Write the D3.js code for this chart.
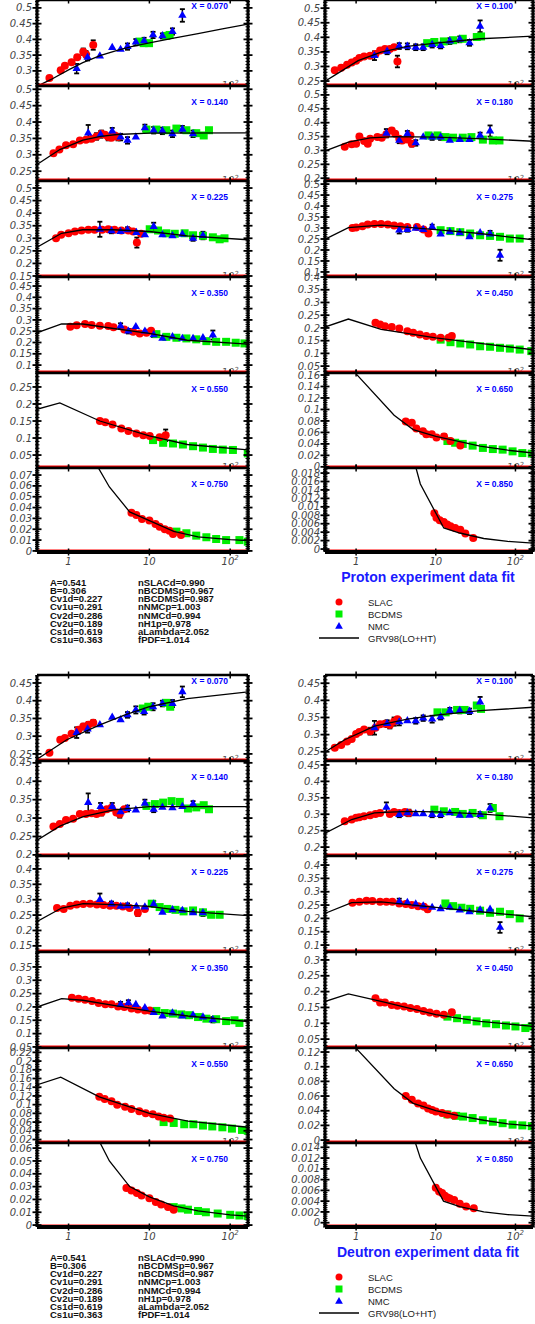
<!DOCTYPE html>
<html>
<head>
<meta charset="utf-8">
<script src="https://cdn.jsdelivr.net/npm/d3@7"></script>
<style>
  body { margin: 0; background: #fff; }
  svg text { font-family: "Liberation Sans", Arial, sans-serif; }
</style>
</head>
<body>
<div id="chart"></div>
<script>
// data points are [Q2, F2, error] (error only where a bar is drawn)

// ---------- proton ----------
var slacP070 = [[0.58,0.277],[0.80,0.302],[0.90,0.316],[1.09,0.327],[1.28,0.343],[1.52,0.361,0.01],[1.64,0.353,0.01],[2.02,0.382,0.015]];
var bcdmsP070 = [[7.6,0.393],[8.5,0.388],[9.9,0.388],[16.2,0.411],[17.8,0.414]];
var nmcP070 = [[1.26,0.307,0.015],[1.72,0.343,0.01],[2.44,0.347],[3.47,0.374],[4.4,0.368],[5.36,0.377,0.01],[6.8,0.391,0.01],[8.6,0.395,0.01],[11.1,0.414,0.01],[14.5,0.411,0.008],[19.3,0.425,0.01],[25.6,0.476,0.02]];
var grvP070 = [[0.4,0.25],[0.6,0.272],[1,0.303],[1.5,0.326],[2.5,0.349],[4,0.365],[6,0.377],[10,0.389],[20,0.404],[40,0.418],[80,0.433],[170,0.449]];

var slacP140 = [[0.65,0.305],[0.77,0.316],[0.93,0.329],[1.14,0.332],[1.38,0.344],[1.64,0.346],[1.93,0.349],[2.22,0.356,0.01],[2.56,0.364,0.01],[2.82,0.361],[3.1,0.354,0.01],[3.4,0.352],[3.74,0.359],[4.1,0.354,0.01]];
var bcdmsP140 = [[9.2,0.377],[12.2,0.377],[16.2,0.375],[21.6,0.38],[28.7,0.375],[38,0.366],[47,0.359],[54.6,0.375]];
var nmcP140 = [[1.75,0.366,0.025],[2.49,0.362,0.01],[3.47,0.372,0.01],[4.4,0.354,0.01],[5.36,0.344,0.01],[6.8,0.354],[8.8,0.382,0.01],[11.3,0.375,0.01],[14.5,0.373,0.01],[19.3,0.364,0.01],[25.6,0.378,0.01],[34.7,0.364,0.01]];
var grvP140 = [[0.4,0.269],[0.78,0.316],[1.5,0.345],[2.5,0.356],[4,0.362],[10,0.366],[170,0.367]];

var slacP225 = [[0.7,0.3],[0.81,0.314],[1.0,0.32],[1.2,0.327],[1.45,0.331],[1.76,0.334],[2.1,0.334],[2.6,0.334],[3.1,0.336],[3.7,0.334],[4.5,0.331],[5.5,0.331],[6.3,0.327],[7.0,0.283,0.02],[7.9,0.318]];
var bcdmsP225 = [[10.1,0.336],[12.8,0.331],[16.2,0.32],[20.6,0.318],[27.3,0.32],[34.7,0.312],[46,0.31],[61,0.304],[74,0.296],[85,0.3]];
var nmcP225 = [[2.44,0.336,0.03],[3.4,0.33,0.01],[4.4,0.327],[5.36,0.334,0.01],[6.9,0.323],[8.8,0.314],[11.3,0.347,0.015],[14.5,0.314],[19.3,0.31],[25.6,0.316],[34.7,0.3,0.01],[46,0.311,0.015]];
var grvP225 = [[0.4,0.263],[0.82,0.32],[1.5,0.334],[3.6,0.334],[10,0.327],[29.5,0.31],[170,0.294]];

var slacP350 = [[1.05,0.27],[1.26,0.276],[1.6,0.282],[1.93,0.277],[2.44,0.274],[3.1,0.273],[3.6,0.267],[4.9,0.258],[6.3,0.248],[7.6,0.24],[9.2,0.243],[10.5,0.252]];
var bcdmsP350 = [[12.2,0.237],[16.2,0.225],[21.6,0.221],[28.7,0.218],[38,0.214],[50.7,0.206],[67,0.203],[89,0.203],[117,0.199],[150,0.196]];
var nmcP350 = [[4.4,0.273,0.012],[5.5,0.25,0.01],[6.8,0.27],[8.8,0.25],[11.3,0.234,0.01],[14.5,0.218],[19.3,0.225],[25.6,0.218],[34.7,0.218],[46,0.221],[61,0.233,0.02]];
var grvP350 = [[0.4,0.242],[0.82,0.282],[1.5,0.282],[3.6,0.262],[10,0.24],[29.5,0.21],[170,0.193]];

var slacP550 = [[2.44,0.15],[2.85,0.146],[3.5,0.14],[4.5,0.128],[5.5,0.121],[6.9,0.113],[8.4,0.108],[10.1,0.106],[13.4,0.102],[15.9,0.108,0.017]];
var bcdmsP550 = [[11.1,0.094],[14.8,0.086],[19.6,0.084],[26,0.081],[34.7,0.076],[46,0.072],[61,0.068],[81,0.066],[108,0.065],[165,0.055]];
var nmcP550 = [];
var grvP550 = [[0.4,0.184],[0.78,0.203],[2.44,0.15],[10,0.106],[29.5,0.081],[170,0.065]];

var slacP750 = [[6.0,0.0353],[6.9,0.0332],[8.1,0.0295],[10,0.028],[11.9,0.0249],[13.4,0.0224],[15.5,0.02],[17.7,0.0187],[19.6,0.0157],[24.6,0.0147]];
var bcdmsP750 = [[21.6,0.0178],[28.7,0.0163],[38,0.0141],[50.7,0.0126],[67,0.011],[89,0.01],[130,0.01],[165,0.0085]];
var nmcP750 = [];
var grvP750 = [[2.2,0.08],[3.2,0.059],[5.7,0.036],[10,0.028],[20,0.018],[40,0.013],[100,0.0105],[170,0.0095]];

var slacP100 = [[0.54,0.287],[0.65,0.296],[0.77,0.306],[0.88,0.314],[1.0,0.32],[1.1,0.329],[1.26,0.334],[1.5,0.337],[1.75,0.343],[2.0,0.355],[2.3,0.36],[2.65,0.36],[3.0,0.366],[3.3,0.317,0.02]];
var bcdmsP100 = [[7.8,0.38],[9.6,0.384],[12.6,0.386],[16.5,0.39],[21.8,0.395],[32.7,0.401],[37,0.403]];
var nmcP100 = [[1.7,0.337,0.015],[2.45,0.352,0.01],[3.48,0.37,0.01],[4.4,0.369,0.01],[5.6,0.366,0.01],[6.95,0.366,0.01],[9.0,0.375,0.01],[11.5,0.372,0.01],[15,0.387,0.01],[20,0.393,0.01],[26.5,0.381,0.01],[36,0.438,0.02]];
var grvP100 = [[0.4,0.248],[0.66,0.285],[1.06,0.32],[2.06,0.349],[4.4,0.369],[10,0.38],[36,0.395],[170,0.404]];

var slacP180 = [[0.72,0.313],[0.88,0.322],[1.0,0.324],[1.1,0.35,0.008],[1.26,0.334],[1.4,0.324],[1.5,0.342],[1.85,0.348],[2.1,0.346],[2.4,0.358],[2.8,0.372,0.008],[3.1,0.36],[3.48,0.342],[3.8,0.336],[4.4,0.339],[4.8,0.354],[5.0,0.324,0.01]];
var bcdmsP180 = [[8.1,0.354],[10.5,0.354],[13.2,0.348],[16.5,0.346],[21.8,0.346],[28,0.348],[39,0.339],[52,0.336],[63,0.336]];
var nmcP180 = [[2.4,0.362,0.015],[3.48,0.336,0.01],[4.4,0.36,0.01],[5.6,0.327,0.01],[6.95,0.348],[9,0.348,0.01],[11.5,0.348,0.01],[15,0.336],[20,0.339],[26.5,0.339],[36,0.354,0.01],[48,0.37,0.02]];
var grvP180 = [[0.4,0.297],[0.8,0.33],[1.5,0.345],[3,0.35],[10,0.348],[40,0.342],[170,0.333]];

var slacP275 = [[0.9,0.3],[1.0,0.302],[1.2,0.308],[1.4,0.316],[1.7,0.318],[2.06,0.318],[2.5,0.316],[3.0,0.311],[3.6,0.308],[4.4,0.305],[5.8,0.305],[7.0,0.293],[8.1,0.275,0.01]];
var bcdmsP275 = [[11.5,0.29],[15.3,0.286],[20.3,0.281],[27,0.275],[36,0.267],[48,0.264],[64,0.26],[85,0.252],[113,0.252]];
var nmcP275 = [[3.48,0.29,0.015],[4.4,0.293,0.01],[5.6,0.298],[6.95,0.293],[9,0.305,0.01],[11.5,0.272],[15,0.283,0.01],[20,0.278],[26.5,0.26],[36,0.278],[48,0.272,0.015],[64,0.176,0.025]];
var grvP275 = [[0.4,0.247],[0.8,0.302],[2.06,0.313],[10,0.293],[36,0.275],[170,0.246]];

var slacP450 = [[1.75,0.22],[2.0,0.213],[2.3,0.207],[2.8,0.204],[3.48,0.198],[4.4,0.187],[5.2,0.181],[6.3,0.174],[7.6,0.168],[9.2,0.165],[11.5,0.161],[14.5,0.161],[15.9,0.168,0.008]];
var bcdmsP450 = [[11.5,0.154],[15.3,0.144],[20.3,0.139],[27,0.135],[36,0.128],[48,0.126],[64,0.122],[85,0.119],[113,0.115],[158,0.109]];
var nmcP450 = [];
var grvP450 = [[0.4,0.203],[0.8,0.235],[2.06,0.194],[10,0.161],[36,0.139],[170,0.114]];

var slacP650 = [[4.2,0.079],[5.0,0.077],[5.7,0.067],[6.9,0.062],[7.6,0.057,0.004],[8.9,0.057],[10.2,0.051],[12.7,0.053,0.004],[15.3,0.045],[20.3,0.037]];
var bcdmsP650 = [[14,0.045],[17.5,0.042],[21.8,0.04],[29,0.037],[39,0.033],[52,0.031],[69,0.03],[92,0.027],[122,0.024],[160,0.023]];
var nmcP650 = [];
var grvP650 = [[1.0,0.162],[3.0,0.09],[5.2,0.065],[10,0.053],[20,0.044],[36,0.036],[80,0.029],[170,0.024]];

var slacP850 = [[9.6,0.0085],[10.2,0.0074],[11.2,0.0068],[12.6,0.0064],[13.9,0.0058],[15.3,0.0054],[17.5,0.005],[20.3,0.0046],[23.5,0.0037],[29.5,0.0026]];
var bcdmsP850 = [];
var nmcP850 = [];
var grvP850 = [[5.5,0.02],[6.4,0.0154],[12.6,0.005],[20,0.0038],[40,0.0025],[80,0.0018],[170,0.0014]];

// ---------- deuteron ----------
var slacD070 = [[0.58,0.253],[0.79,0.29],[0.9,0.295],[1.09,0.307],[1.33,0.318],[1.52,0.327,0.008],[1.76,0.332,0.008],[2.02,0.338,0.008]];
var bcdmsD070 = [[8.3,0.378],[9.7,0.383],[16.2,0.394],[18.1,0.383]];
var nmcD070 = [[1.26,0.31,0.015],[1.72,0.32,0.01],[2.44,0.332],[3.47,0.353],[4.4,0.346],[5.36,0.36,0.008],[6.8,0.374,0.01],[8.6,0.369,0.008],[11.1,0.383,0.01],[14.5,0.392,0.008],[19.3,0.392,0.01],[25.6,0.425,0.015]];
var grvD070 = [[0.4,0.234],[0.95,0.29],[2.44,0.332],[5,0.36],[10,0.383],[29.5,0.406],[170,0.425]];

var slacD140 = [[0.65,0.277],[0.78,0.284],[0.93,0.295],[1.14,0.298],[1.38,0.311],[1.64,0.311],[1.93,0.313],[2.22,0.311],[2.56,0.315,0.008],[2.97,0.324],[3.4,0.328],[3.9,0.315],[4.3,0.311,0.01],[4.9,0.324]];
var bcdmsD140 = [[9.2,0.333],[11.7,0.338],[14.8,0.342],[18.8,0.346],[23.8,0.344],[30,0.326],[38,0.329],[47,0.335],[54.6,0.324]];
var nmcD140 = [[1.75,0.342,0.025],[2.49,0.331,0.01],[3.47,0.331,0.01],[4.4,0.317],[5.36,0.326,0.008],[6.8,0.322],[8.8,0.34,0.01],[11.3,0.324,0.008],[14.5,0.329],[19.3,0.328],[25.6,0.331],[34.7,0.338,0.008]];
var grvD140 = [[0.4,0.239],[0.78,0.278],[1.52,0.304],[3.6,0.322],[10,0.331],[170,0.331]];

var slacD225 = [[0.72,0.273],[0.87,0.27],[1.05,0.28],[1.26,0.284],[1.52,0.286],[1.85,0.287],[2.24,0.284],[2.7,0.283],[3.26,0.28],[3.9,0.28],[4.7,0.278],[5.7,0.273],[7.2,0.257,0.01],[8.8,0.27]];
var bcdmsD225 = [[10.7,0.287],[13.4,0.276],[16.7,0.27],[21,0.267],[26.5,0.262],[34.7,0.265],[46,0.259],[58,0.251],[74,0.251]];
var nmcD225 = [[2.44,0.3,0.02],[3.4,0.286,0.008],[4.4,0.278],[5.36,0.28,0.008],[6.9,0.278],[8.8,0.276],[11.3,0.286,0.01],[14.5,0.259],[19.3,0.267],[25.6,0.265],[34.7,0.257],[46,0.257,0.01]];
var grvD225 = [[0.4,0.228],[0.82,0.273],[1.52,0.287],[3.6,0.284],[10,0.278],[29.5,0.262],[170,0.248]];

var slacD350 = [[1.1,0.234],[1.33,0.231],[1.6,0.227],[1.95,0.222],[2.35,0.215],[2.85,0.21],[3.4,0.21],[4.1,0.202],[4.9,0.2],[6.0,0.194],[7.2,0.19],[8.8,0.187],[10.1,0.187]];
var bcdmsD350 = [[12.2,0.185],[15.5,0.177],[19.6,0.175],[24.8,0.172],[31,0.169],[40,0.162],[50.7,0.156],[67,0.154],[89,0.147],[113,0.15],[130,0.14]];
var nmcD350 = [[4.4,0.209,0.01],[5.5,0.215,0.01],[6.8,0.209],[8.8,0.197],[11.3,0.179],[14.5,0.166],[19.3,0.177],[25.6,0.166],[34.7,0.169],[46,0.162],[61,0.152,0.01]];
var grvD350 = [[0.4,0.199],[0.82,0.231],[1.5,0.225],[3.6,0.206],[10,0.184],[30,0.166],[170,0.145]];

var slacD550 = [[2.4,0.118],[2.8,0.113],[3.4,0.108],[4,0.1],[5,0.095],[6,0.09],[7.5,0.085],[9,0.08],[11,0.078],[13,0.073],[15,0.07],[18,0.068]];
var bcdmsD550 = [[15,0.06],[20,0.058],[27,0.055],[35,0.055],[46,0.052],[60,0.05],[80,0.048],[105,0.045],[140,0.042],[165,0.04]];
var nmcD550 = [];
var grvD550 = [[0.4,0.145],[0.8,0.163],[2.4,0.118],[10,0.08],[30,0.062],[170,0.048]];

var slacD750 = [[5.2,0.029],[6,0.027],[7,0.025],[8,0.023],[10,0.021],[12,0.018],[14,0.016],[17,0.014],[20,0.012]];
var bcdmsD750 = [[20,0.014],[25,0.013],[30,0.012],[40,0.011],[50,0.01],[70,0.009],[100,0.008],[130,0.0075],[165,0.007]];
var nmcD750 = [];
var grvD750 = [[2.2,0.07],[3.2,0.05],[5.7,0.03],[10,0.022],[20,0.015],[40,0.011],[100,0.008],[170,0.007]];

var slacD100 = [[0.54,0.262],[0.65,0.27],[0.77,0.28],[0.88,0.287],[1.0,0.302],[1.1,0.308],[1.26,0.315],[1.5,0.31,0.01],[1.75,0.32],[2.0,0.33],[2.3,0.332],[2.65,0.328,0.01],[3.0,0.338,0.012],[3.3,0.345]];
var bcdmsD100 = [[10.5,0.365],[13.3,0.365],[18.5,0.372],[23,0.372],[32.7,0.385],[37,0.375]];
var nmcD100 = [[1.7,0.32,0.02],[2.45,0.332,0.01],[3.48,0.337,0.01],[4.4,0.34],[5.6,0.34,0.008],[6.95,0.348,0.008],[9,0.345,0.01],[11.5,0.352,0.008],[15,0.37,0.008],[20,0.37,0.008],[26.5,0.368,0.008],[36,0.395,0.015]];
var grvD100 = [[0.4,0.248],[0.72,0.285],[1.7,0.325],[4.4,0.345],[10,0.357],[36,0.37],[170,0.38]];

var slacD180 = [[0.72,0.279],[0.88,0.284],[1.0,0.289],[1.1,0.291],[1.26,0.294],[1.5,0.297],[1.75,0.301],[2.0,0.304],[2.65,0.301],[3.0,0.307],[3.48,0.304],[4.1,0.307],[4.6,0.304,0.01]];
var bcdmsD180 = [[9.6,0.314],[12.6,0.309],[17.5,0.307],[21.8,0.301],[29,0.304],[39,0.297],[52,0.319],[63,0.294]];
var nmcD180 = [[2.4,0.321,0.015],[3.48,0.299,0.008],[4.4,0.304,0.008],[5.6,0.301],[6.95,0.301],[9,0.299,0.008],[11.5,0.299,0.008],[15,0.304],[20,0.297],[26.5,0.297],[36,0.299,0.008],[48,0.319,0.012]];
var grvD180 = [[0.4,0.241],[0.88,0.284],[1.7,0.304],[4.4,0.309],[10,0.307],[36,0.301],[170,0.289]];

var slacD275 = [[0.9,0.259],[1.1,0.262],[1.35,0.266],[1.6,0.265],[2.0,0.262],[2.4,0.262],[2.85,0.262],[3.48,0.256,0.008],[4.2,0.254],[5.0,0.25],[6.0,0.246],[7.1,0.244],[7.9,0.234,0.008]];
var bcdmsD275 = [[13.2,0.256],[16.5,0.246],[21,0.24],[27,0.236],[36,0.229],[48,0.221],[64,0.225],[85,0.216],[113,0.2]];
var nmcD275 = [[3.48,0.262,0.012],[4.4,0.259],[5.6,0.254],[6.95,0.246],[9,0.241],[11.5,0.236],[15,0.241],[20,0.231],[26.5,0.225],[36,0.231],[48,0.234],[64,0.166,0.02]];
var grvD275 = [[0.4,0.218],[0.88,0.259],[2.06,0.262],[10,0.241],[36,0.225],[170,0.206]];

var slacD450 = [[1.75,0.179],[2.0,0.166],[2.3,0.166],[2.8,0.158],[3.3,0.155],[4.0,0.153],[4.8,0.148],[5.8,0.145],[7.0,0.139],[8.4,0.134],[10.2,0.13],[12.6,0.127],[15.9,0.135,0.006]];
var bcdmsD450 = [[14,0.121],[18.5,0.116],[24.5,0.111],[32.5,0.106],[43,0.1],[57,0.097],[76,0.093],[100,0.09],[133,0.085],[160,0.09]];
var nmcD450 = [];
var grvD450 = [[0.4,0.168],[0.8,0.193],[2.06,0.169],[10,0.127],[36,0.106],[170,0.09]];

var slacD650 = [[4.2,0.06],[5,0.055],[6,0.05],[7,0.047],[8,0.043],[9,0.041],[10,0.039],[12,0.037],[14,0.035],[17,0.033]];
var bcdmsD650 = [[14,0.035],[18,0.033],[22,0.032],[29,0.03],[39,0.027],[52,0.025],[69,0.023],[92,0.021],[122,0.02],[160,0.019]];
var nmcD650 = [];
var grvD650 = [[1.0,0.125],[3,0.07],[5.2,0.05],[10,0.04],[20,0.033],[40,0.027],[80,0.022],[170,0.019]];

var slacD850 = [[10,0.0065],[11,0.0058],[12,0.0055],[13,0.005],[14,0.0047],[15,0.0045],[17,0.0042],[20,0.0035],[24,0.003],[30,0.0027]];
var bcdmsD850 = [];
var nmcD850 = [];
var grvD850 = [[5.5,0.015],[6.4,0.012],[12.5,0.004],[20,0.003],[40,0.002],[80,0.0015],[170,0.0012]];

// ---------- labels ----------
var sectionTitles = ["Proton experiment data fit", "Deutron experiment data fit"];
var legendLabels = ["SLAC", "BCDMS", "NMC", "GRV98(LO+HT)"];
var paramsLeft = ["A=0.541", "B=0.306", "Cv1d=0.227", "Cv1u=0.291", "Cv2d=0.286", "Cv2u=0.189", "Cs1d=0.619", "Cs1u=0.363"];
var paramsRight = ["nSLACd=0.990", "nBCDMSp=0.967", "nBCDMSd=0.987", "nNMCp=1.003", "nNMCd=0.994", "nH1p=0.978", "aLambda=2.052", "fPDF=1.014"];

// ---------- layout ----------
var W = 535, H = 1324;
var sectionTop = [0, 675];
var rowEdges = [0, 86, 181, 277, 373, 468, 552];
var colX = [[37, 248], [325, 533]];
var q2Domain = [0.407, 166];

var panels = [
  {sec:0,col:0,row:0,xb:"0.070",dom:[0.252,0.525],yt:[0.3,0.5,0.05],slac:slacP070,bcdms:bcdmsP070,nmc:nmcP070,grv:grvP070},
  {sec:0,col:0,row:1,xb:"0.140",dom:[0.22,0.51],yt:[0.25,0.5,0.05],slac:slacP140,bcdms:bcdmsP140,nmc:nmcP140,grv:grvP140},
  {sec:0,col:0,row:2,xb:"0.225",dom:[0.146,0.528],yt:[0.15,0.5,0.05],slac:slacP225,bcdms:bcdmsP225,nmc:nmcP225,grv:grvP225},
  {sec:0,col:0,row:3,xb:"0.350",dom:[0.065,0.49],yt:[0.1,0.45,0.05],slac:slacP350,bcdms:bcdmsP350,nmc:nmcP350,grv:grvP350},
  {sec:0,col:0,row:4,xb:"0.550",dom:[0.012,0.291],yt:[0.05,0.25,0.05],slac:slacP550,bcdms:bcdmsP550,nmc:nmcP550,grv:grvP550},
  {sec:0,col:0,row:5,xb:"0.750",dom:[-0.001,0.0765],yt:[0,0.07,0.01],slac:slacP750,bcdms:bcdmsP750,nmc:nmcP750,grv:grvP750},
  {sec:0,col:1,row:0,xb:"0.100",dom:[0.233,0.528],yt:[0.25,0.5,0.05],slac:slacP100,bcdms:bcdmsP100,nmc:nmcP100,grv:grvP100},
  {sec:0,col:1,row:1,xb:"0.180",dom:[0.19,0.532],yt:[0.2,0.5,0.05],slac:slacP180,bcdms:bcdmsP180,nmc:nmcP180,grv:grvP180},
  {sec:0,col:1,row:2,xb:"0.275",dom:[0.077,0.514],yt:[0.1,0.5,0.05],slac:slacP275,bcdms:bcdmsP275,nmc:nmcP275,grv:grvP275},
  {sec:0,col:1,row:3,xb:"0.450",dom:[0.023,0.4],yt:[0.05,0.4,0.05],slac:slacP450,bcdms:bcdmsP450,nmc:nmcP450,grv:grvP450},
  {sec:0,col:1,row:4,xb:"0.650",dom:[-0.002,0.1635],yt:[0,0.16,0.02],slac:slacP650,bcdms:bcdmsP650,nmc:nmcP650,grv:grvP650},
  {sec:0,col:1,row:5,xb:"0.850",dom:[-0.0007,0.0192],yt:[0,0.018,0.002],slac:slacP850,bcdms:bcdmsP850,nmc:nmcP850,grv:grvP850},
  {sec:1,col:0,row:0,xb:"0.070",dom:[0.23,0.4725],yt:[0.25,0.45,0.05],slac:slacD070,bcdms:bcdmsD070,nmc:nmcD070,grv:grvD070},
  {sec:1,col:0,row:1,xb:"0.140",dom:[0.197,0.455],yt:[0.2,0.45,0.05],slac:slacD140,bcdms:bcdmsD140,nmc:nmcD140,grv:grvD140},
  {sec:1,col:0,row:2,xb:"0.225",dom:[0.13,0.442],yt:[0.15,0.4,0.05],slac:slacD225,bcdms:bcdmsD225,nmc:nmcD225,grv:grvD225},
  {sec:1,col:0,row:3,xb:"0.350",dom:[0.046,0.406],yt:[0.05,0.35,0.05],slac:slacD350,bcdms:bcdmsD350,nmc:nmcD350,grv:grvD350},
  {sec:1,col:0,row:4,xb:"0.550",dom:[0.012,0.23],yt:[0.02,0.22,0.02],slac:slacD550,bcdms:bcdmsD550,nmc:nmcD550,grv:grvD550},
  {sec:1,col:0,row:5,xb:"0.750",dom:[-0.0015,0.064],yt:[0,0.06,0.01],slac:slacD750,bcdms:bcdmsD750,nmc:nmcD750,grv:grvD750},
  {sec:1,col:1,row:0,xb:"0.100",dom:[0.223,0.474],yt:[0.25,0.45,0.05],slac:slacD100,bcdms:bcdmsD100,nmc:nmcD100,grv:grvD100},
  {sec:1,col:1,row:1,xb:"0.180",dom:[0.173,0.462],yt:[0.2,0.45,0.05],slac:slacD180,bcdms:bcdmsD180,nmc:nmcD180,grv:grvD180},
  {sec:1,col:1,row:2,xb:"0.275",dom:[0.074,0.434],yt:[0.1,0.4,0.05],slac:slacD275,bcdms:bcdmsD275,nmc:nmcD275,grv:grvD275},
  {sec:1,col:1,row:3,xb:"0.450",dom:[0.022,0.325],yt:[0.05,0.3,0.05],slac:slacD450,bcdms:bcdmsD450,nmc:nmcD450,grv:grvD450},
  {sec:1,col:1,row:4,xb:"0.650",dom:[-0.004,0.1255],yt:[0,0.12,0.02],slac:slacD650,bcdms:bcdmsD650,nmc:nmcD650,grv:grvD650},
  {sec:1,col:1,row:5,xb:"0.850",dom:[-0.0008,0.0148],yt:[0,0.014,0.002],slac:slacD850,bcdms:bcdmsD850,nmc:nmcD850,grv:grvD850}
];

var RED = "#ff0000", GREEN = "#00ee00", BLUE = "#0000ff", TICKGREY = "#444";
var fmt = function(v) { return String(+v.toFixed(4)); };

var svg = d3.select("#chart").append("svg").attr("width", W).attr("height", H);

panels.forEach(function(p, i) {
    var x0 = colX[p.col][0], x1 = colX[p.col][1];
    var top = sectionTop[p.sec] + rowEdges[p.row];
    var bot = sectionTop[p.sec] + rowEdges[p.row + 1];
    var last = p.row === rowEdges.length - 2;

    var x = d3.scaleLog().domain(q2Domain).range([x0, x1]);
    var y = d3.scaleLinear().domain(p.dom).range([bot, top]);

    var g = svg.append("g");
    g.append("clipPath").attr("id", "clip" + i).append("rect")
        .attr("x", x0).attr("y", top).attr("width", x1 - x0).attr("height", bot - top);
    var inner = g.append("g").attr("clip-path", "url(#clip" + i + ")");
    inner.append("rect").attr("x", x0).attr("y", top).attr("width", x1 - x0).attr("height", bot - top).attr("fill", "#fff");

    // partly hidden 10^2 label of the x axis
    if (!last) {
        var t = inner.append("text").attr("x", x(100)).attr("y", bot + 3).attr("text-anchor", "middle")
            .attr("font-size", 10).attr("font-style", "italic").attr("fill", "#555")
            .style("font-family", "DejaVu Sans, sans-serif").text("10");
        t.append("tspan").attr("font-size", 7).attr("dy", -4).text("2");
    }

    // error bars
    var withErr = [].concat(p.bcdms, p.slac, p.nmc).filter(function(d) { return d.length > 2; });
    withErr.forEach(function(d) {
        var cx = x(d[0]), ya = y(d[1] - d[2]), yb = y(d[1] + d[2]);
        inner.append("line").attr("x1", cx).attr("x2", cx).attr("y1", ya).attr("y2", yb).attr("stroke", "#000").attr("stroke-width", 1.5);
        [ya, yb].forEach(function(yy) {
            inner.append("line").attr("x1", cx - 2.5).attr("x2", cx + 2.5).attr("y1", yy).attr("y2", yy).attr("stroke", "#000").attr("stroke-width", 1.8);
        });
    });

    inner.selectAll(".bcdms").data(p.bcdms).enter().append("rect")
        .attr("x", function(d) { return x(d[0]) - 4; }).attr("y", function(d) { return y(d[1]) - 4; })
        .attr("width", 8).attr("height", 8).attr("fill", GREEN);
    inner.selectAll(".slac").data(p.slac).enter().append("circle")
        .attr("cx", function(d) { return x(d[0]); }).attr("cy", function(d) { return y(d[1]); })
        .attr("r", 4).attr("fill", RED);
    inner.selectAll(".nmc").data(p.nmc).enter().append("path")
        .attr("d", d3.symbol().type(d3.symbolTriangle).size(30))
        .attr("transform", function(d) { return "translate(" + x(d[0]) + "," + y(d[1]) + ")"; })
        .attr("fill", BLUE);

    var line = d3.line().x(function(d) { return x(d[0]); }).y(function(d) { return y(d[1]); });
    inner.append("path").datum(p.grv).attr("fill", "none").attr("stroke", "#000").attr("stroke-width", 1.3).attr("d", line);

    // frame
    g.append("line").attr("x1", x0).attr("x2", x1).attr("y1", bot - 1.8).attr("y2", bot - 1.8).attr("stroke", RED).attr("stroke-width", 1.5);
    g.append("line").attr("x1", x0).attr("x2", x1).attr("y1", top).attr("y2", top).attr("stroke", "#000").attr("stroke-width", 2.5);
    g.append("line").attr("x1", x0).attr("x2", x1).attr("y1", bot).attr("y2", bot).attr("stroke", "#000").attr("stroke-width", last ? 4 : 2.5);
    [x0, x1].forEach(function(xx) {
        g.append("line").attr("x1", xx).attr("x2", xx).attr("y1", top).attr("y2", bot).attr("stroke", "#000").attr("stroke-width", 3);
    });

    // y ticks
    var step = p.yt[2], sub = step / 5;
    var minor = d3.range(Math.ceil(p.dom[0] / sub), Math.floor(p.dom[1] / sub) + 1).map(function(k) { return k * sub; });
    minor.forEach(function(v) {
        var yy = y(v);
        g.append("line").attr("x1", x0 - 2).attr("x2", x0 + 2.5).attr("y1", yy).attr("y2", yy).attr("stroke", "#000").attr("stroke-width", 1);
        g.append("line").attr("x1", x1 - 2.5).attr("x2", x1 + 2).attr("y1", yy).attr("y2", yy).attr("stroke", "#000").attr("stroke-width", 1);
    });
    var major = d3.range(Math.round(p.yt[0] / step), Math.round(p.yt[1] / step) + 1).map(function(k) { return k * step; });
    major.forEach(function(v) {
        var yy = y(v);
        g.append("line").attr("x1", x0 - 4.5).attr("x2", x0 + 4.5).attr("y1", yy).attr("y2", yy).attr("stroke", "#000").attr("stroke-width", 1.8);
        g.append("line").attr("x1", x1 - 4.5).attr("x2", x1 + 4.5).attr("y1", yy).attr("y2", yy).attr("stroke", "#000").attr("stroke-width", 1.8);
    });

    // x ticks at 1, 10, 100
    [1, 10, 100].forEach(function(v) {
        [top, bot].forEach(function(yy) {
            g.append("line").attr("x1", x(v)).attr("x2", x(v)).attr("y1", yy - 3.5).attr("y2", yy + 3.5).attr("stroke", "#000").attr("stroke-width", 1.5);
        });
    });

    g.append("text").attr("x", x1 - 20).attr("y", top + (p.row === 0 ? 9 : 19)).attr("text-anchor", "end")
        .attr("font-size", 8.5).attr("font-weight", "bold").attr("fill", BLUE).text("X = " + p.xb);

    p.geom = {major: major, sx: x, sy: y, x0: x0, bot: bot, last: last};
});

// tick labels on top of everything
var labelLayer = svg.append("g");
panels.forEach(function(p) {
    var G = p.geom;
    G.major.forEach(function(v) {
        labelLayer.append("text").attr("x", G.x0 - 5).attr("y", G.sy(v)).attr("dy", "0.36em").attr("text-anchor", "end")
            .attr("font-size", 10).attr("font-style", "italic").attr("fill", TICKGREY)
            .style("font-family", "DejaVu Sans, sans-serif").text(fmt(v));
    });
    if (G.last) {
        [1, 10, 100].forEach(function(v) {
            var t = labelLayer.append("text").attr("x", G.sx(v)).attr("y", G.bot + 13).attr("text-anchor", "middle")
                .attr("font-size", 10).attr("font-style", "italic").attr("fill", TICKGREY)
                .style("font-family", "DejaVu Sans, sans-serif").text(v === 100 ? "10" : String(v));
            if (v === 100) t.append("tspan").attr("font-size", 7).attr("dy", -5).text("2");
        });
    }
});

// section titles, legend and fit parameters
sectionTop.forEach(function(off, s) {
    svg.append("text").attr("x", 428).attr("y", off + 582).attr("text-anchor", "middle")
        .attr("font-size", 14).attr("font-weight", "bold").attr("fill", "#1a1aff").text(sectionTitles[s]);

    var lg = svg.append("g").attr("transform", "translate(0," + off + ")");
    legendLabels.forEach(function(lab, k) {
        var cy = 602 + k * 12;
        if (k === 0) lg.append("circle").attr("cx", 339).attr("cy", cy).attr("r", 3.5).attr("fill", RED);
        if (k === 1) lg.append("rect").attr("x", 335.5).attr("y", cy - 3.5).attr("width", 7).attr("height", 7).attr("fill", GREEN);
        if (k === 2) lg.append("path").attr("d", d3.symbol().type(d3.symbolTriangle).size(26)).attr("transform", "translate(339," + (cy + 0.5) + ")").attr("fill", BLUE);
        if (k === 3) lg.append("line").attr("x1", 319).attr("x2", 359).attr("y1", cy).attr("y2", cy).attr("stroke", "#000").attr("stroke-width", 1.3);
        lg.append("text").attr("x", 368).attr("y", cy + 3.5).attr("font-size", 9.5).attr("fill", "#222").text(lab);
    });

    paramsLeft.forEach(function(txt, k) {
        svg.append("text").attr("x", 50).attr("y", off + 585.5 + k * 8.28).attr("font-size", 9.5).attr("font-weight", "bold").attr("fill", "#111").text(txt);
    });
    paramsRight.forEach(function(txt, k) {
        svg.append("text").attr("x", 138).attr("y", off + 585.5 + k * 8.28).attr("font-size", 9.5).attr("font-weight", "bold").attr("fill", "#111").text(txt);
    });
});
</script>
</body>
</html>
